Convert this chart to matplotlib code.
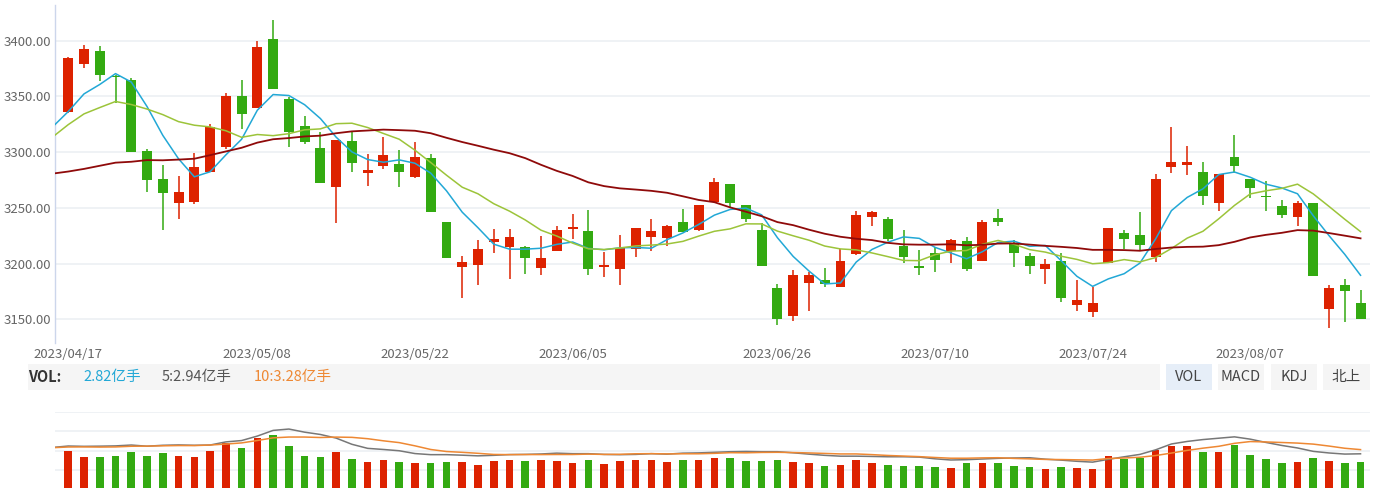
import numpy as np
import pandas as pd
import matplotlib
matplotlib.use("Agg")
import matplotlib.pyplot as plt
from matplotlib.patches import Rectangle

plt.rcParams["font.family"] = ["Noto Sans CJK SC", "DejaVu Sans"]

# --- data -----------------------------------------------------------------
# closes of the 30 sessions before the first candle (needed for MA10 / MA30)
prev_close = [3328.39, 3322.03, 3285.10, 3283.25, 3276.09, 3230.08, 3268.70,
              3245.31, 3263.31, 3226.89, 3250.55, 3234.91, 3255.65, 3265.65,
              3286.65, 3265.65, 3251.40, 3245.38, 3240.06, 3261.25, 3272.86,
              3296.40, 3312.56, 3312.63, 3327.65, 3315.36, 3313.57, 3327.18,
              3318.36, 3338.15]
# volumes (亿手) of the 10 sessions before the first candle
prev_vol = [3.4, 3.3, 3.5, 3.4, 3.3, 3.4, 3.5, 3.3, 3.4, 3.5]

opens = [3335.7, 3378.8, 3390.7, 3367.5, 3364.4, 3300.7, 3276.2, 3254.7, 3255.6, 3282.5,
         3304.9, 3350.4, 3339.9, 3401.5, 3347.4, 3323.4, 3304.0, 3269.0, 3310.0, 3281.6,
         3287.6, 3289.1, 3277.4, 3295.0, 3237.6, 3196.7, 3198.7, 3219.4, 3214.6, 3215.2,
         3195.8, 3211.6, 3231.0, 3229.2, 3196.7, 3194.9, 3212.8, 3224.2, 3223.3, 3237.6,
         3230.1, 3255.6, 3271.4, 3252.3, 3229.8, 3177.8, 3153.3, 3182.9, 3185.3, 3178.7,
         3208.3, 3241.5, 3239.7, 3215.8, 3197.5, 3209.2, 3211.6, 3220.3, 3202.6, 3240.6,
         3218.2, 3206.8, 3194.9, 3202.3, 3163.2, 3156.9, 3200.8, 3227.8, 3225.7, 3206.2,
         3286.4, 3288.5, 3281.9, 3254.1, 3295.9, 3276.2, 3260.9, 3251.4, 3242.1, 3254.4,
         3159.3, 3180.5, 3164.4]
closes = [3384.7, 3392.8, 3369.5, 3367.0, 3300.4, 3274.7, 3263.6, 3264.2, 3286.4, 3322.8,
          3350.4, 3333.9, 3394.6, 3356.6, 3318.4, 3309.1, 3272.0, 3310.9, 3290.6, 3284.0,
          3297.1, 3282.5, 3295.9, 3246.3, 3204.7, 3201.1, 3212.8, 3222.1, 3223.9, 3204.7,
          3205.3, 3230.1, 3232.8, 3195.2, 3198.4, 3214.3, 3231.6, 3229.2, 3234.0, 3228.3,
          3252.3, 3273.5, 3254.7, 3240.0, 3197.8, 3150.0, 3189.5, 3189.5, 3181.7, 3202.3,
          3243.9, 3246.0, 3221.8, 3205.6, 3195.8, 3203.5, 3221.2, 3195.5, 3237.0, 3237.3,
          3209.8, 3197.8, 3199.3, 3168.8, 3167.3, 3164.4, 3231.6, 3222.4, 3216.4, 3276.2,
          3290.9, 3290.9, 3260.9, 3280.4, 3287.6, 3267.5, 3259.8, 3243.9, 3254.4, 3188.9,
          3178.4, 3175.7, 3150.0]
highs = [3385.5, 3396.1, 3395.2, 3369.2, 3366.8, 3303.1, 3288.5, 3278.6, 3298.9, 3325.2,
         3352.8, 3364.4, 3399.7, 3418.5, 3349.2, 3332.4, 3318.4, 3310.9, 3318.0, 3298.0,
         3313.9, 3301.9, 3308.8, 3298.3, 3237.6, 3207.1, 3221.2, 3230.7, 3230.7, 3215.8,
         3224.8, 3234.0, 3244.8, 3247.8, 3210.1, 3225.7, 3231.6, 3239.7, 3234.6, 3248.7,
         3252.3, 3276.5, 3271.4, 3252.3, 3236.1, 3181.7, 3194.3, 3192.1, 3196.4, 3213.1,
         3247.2, 3247.2, 3241.5, 3230.1, 3212.2, 3215.2, 3221.8, 3224.2, 3239.1, 3249.0,
         3221.2, 3209.8, 3204.1, 3209.2, 3185.3, 3178.7, 3231.6, 3230.1, 3246.0, 3280.4,
         3322.2, 3305.5, 3291.1, 3280.4, 3315.1, 3276.2, 3273.8, 3257.4, 3256.5, 3254.4,
         3180.8, 3186.2, 3176.3]
lows = [3335.0, 3375.2, 3364.1, 3343.8, 3300.0, 3264.5, 3230.1, 3239.7, 3253.5, 3282.0,
        3302.5, 3321.1, 3339.9, 3356.6, 3304.9, 3307.3, 3272.0, 3236.1, 3282.2, 3269.6,
        3284.6, 3269.0, 3276.5, 3246.3, 3204.7, 3168.8, 3180.8, 3209.2, 3186.5, 3190.7,
        3189.8, 3211.6, 3222.4, 3189.8, 3188.3, 3180.8, 3206.2, 3211.6, 3216.1, 3228.3,
        3229.0, 3255.6, 3251.1, 3237.6, 3197.8, 3144.9, 3148.8, 3157.8, 3179.3, 3178.7,
        3208.0, 3234.0, 3220.3, 3200.8, 3189.8, 3192.8, 3200.8, 3193.7, 3202.6, 3234.0,
        3196.7, 3190.7, 3181.7, 3165.8, 3157.8, 3152.4, 3200.8, 3212.8, 3211.0, 3201.7,
        3281.6, 3279.5, 3252.9, 3247.5, 3281.6, 3259.2, 3246.9, 3241.2, 3234.0, 3188.9,
        3141.9, 3147.9, 3150.0]
volumes = [3.99, 3.37, 3.37, 3.51, 3.85, 3.51, 3.75, 3.51, 3.37, 3.95,
           4.78, 4.30, 5.33, 5.67, 4.50, 3.51, 3.37, 3.85, 3.16, 2.85,
           3.06, 2.85, 2.71, 2.71, 2.85, 2.85, 2.58, 2.92, 3.02, 2.92,
           3.02, 2.92, 2.71, 3.02, 2.61, 2.92, 3.02, 3.02, 2.82, 3.02,
           3.02, 3.26, 3.26, 2.92, 2.92, 3.02, 2.82, 2.71, 2.44, 2.58,
           3.02, 2.71, 2.58, 2.44, 2.44, 2.33, 2.23, 2.71, 2.71, 2.71,
           2.47, 2.33, 2.13, 2.33, 2.23, 2.13, 3.47, 3.16, 3.30, 4.09,
           4.50, 4.50, 3.92, 3.85, 4.64, 3.57, 3.16, 2.71, 2.82, 3.26,
           2.92, 2.71, 2.82]

holidays = ["2023-05-01", "2023-05-02", "2023-05-03", "2023-06-22", "2023-06-23"]
dates = [d for d in pd.bdate_range("2023-04-17", "2023-08-16")
         if d.strftime("%Y-%m-%d") not in holidays]
date_labels = [d.strftime("%Y/%m/%d") for d in dates]
tick_labels = ["2023/04/17", "2023/05/08", "2023/05/22", "2023/06/05",
               "2023/06/26", "2023/07/10", "2023/07/24", "2023/08/07"]

vol_label = ["2.82亿手", "5:2.94亿手", "10:3.28亿手"]
buttons = ["VOL", "MACD", "KDJ", "北上"]

# --- style ------------------------------------------------------------------
RED = "#dd2200"
GREEN = "#33aa11"
C_MA5 = "#22a8d6"
C_MA10 = "#9cc43a"
C_MA30 = "#8f0a0a"
GRID = "#eef1f5"
TXT = "#666666"

W, H = 1379, 488
fig = plt.figure(figsize=(W / 100, H / 100), dpi=100)


def box(x0, y0, x1, y1):
    # pixel box (top-left origin) -> figure fraction rect
    return [x0 / W, 1 - y1 / H, (x1 - x0) / W, (y1 - y0) / H]


n = len(closes)
x = np.arange(n)
o = np.array(opens)
c = np.array(closes)
up = c >= o
colors = np.where(up, RED, GREEN)
xlim = (-0.84, 82.6)

# --- price panel -------------------------------------------------------------
ax = fig.add_axes(box(55, 5, 1370, 342.7))
ax.set_xlim(*xlim)
ax.set_ylim(3129.0, 3432.0)

ax.vlines(x, lows, highs, colors=colors, lw=1.1, zorder=3)
body_lo = np.minimum(o, c)
body_h = np.maximum(np.abs(c - o), 0.9)
ax.bar(x, body_h, bottom=body_lo, width=0.63, color=colors, lw=0, zorder=4)

all_close = pd.Series(prev_close + closes)
k = len(prev_close)
xm = np.arange(-1, n)
for win, col, lw in [(5, C_MA5, 1.1), (10, C_MA10, 1.1), (30, C_MA30, 1.3)]:
    ma = all_close.rolling(win).mean().values[k - 1:]
    ax.plot(xm, ma, color=col, lw=lw, zorder=5)

ax.set_yticks(np.arange(3150, 3401, 50))
ax.set_yticklabels(["%.2f" % v for v in np.arange(3150, 3401, 50)])
ax.yaxis.grid(True, color=GRID, lw=1.3)
ax.set_axisbelow(True)
ax.set_xticks([date_labels.index(t) for t in tick_labels])
ax.set_xticklabels(tick_labels)
ax.tick_params(axis="both", length=0, labelsize=9.5, labelcolor=TXT)
ax.tick_params(axis="y", pad=3)
ax.tick_params(axis="x", pad=4)
for s in ["top", "right", "bottom"]:
    ax.spines[s].set_visible(False)
ax.spines["left"].set_color("#ccd6eb")
ax.spines["left"].set_linewidth(1)

# --- header strip -----------------------------------------------------------
fig.add_artist(Rectangle((28 / W, 1 - 389.7 / H), (1160 - 28) / W, 25.4 / H,
                         transform=fig.transFigure, color="#f5f5f5", lw=0))
ty = 1 - 377 / H
fig.text(28 / W, ty, "VOL:", fontsize=10.5, weight="bold", color="#333333", va="center")
fig.text(83 / W, ty, vol_label[0], fontsize=10.5, color=C_MA5, va="center")
fig.text(162 / W, ty, vol_label[1], fontsize=10.5, color="#555555", va="center")
fig.text(254 / W, ty, vol_label[2], fontsize=10.5, color="#ee8833", va="center")

btn_x = [(1166, 1212), (1218, 1264), (1271, 1317), (1323, 1370)]
for (b0, b1), lab in zip(btn_x, buttons):
    bg = "#e6eef8" if lab == "VOL" else "#f5f5f5"
    fig.add_artist(Rectangle((b0 / W, 1 - 389.7 / H), (b1 - b0) / W, 25.4 / H,
                             transform=fig.transFigure, color=bg, lw=0))
    fig.text((b0 + b1) / 2 / W, ty, lab, fontsize=10.5, color="#444444",
             ha="center", va="center")

# --- volume panel -----------------------------------------------------------
vax = fig.add_axes(box(55, 412, 1370, 489.6))
vax.set_xlim(*xlim)
vax.set_ylim(0, 8)
vax.bar(x, volumes, width=0.48, color=colors, lw=0, zorder=3)
vax.set_yticks([2, 4, 6, 8])
vax.yaxis.grid(True, color=GRID, lw=1.3)
vax.set_axisbelow(True)
vax.set_xticks([])
vax.tick_params(axis="y", length=0, labelleft=False)
for s in vax.spines.values():
    s.set_visible(False)

lax = vax.twinx()
lax.set_xlim(*xlim)
lax.set_ylim(0, 6.3)
all_vol = pd.Series(prev_vol + volumes)
kv = len(prev_vol)
lax.plot(xm, all_vol.rolling(5).mean().values[kv - 1:], color="#777777", lw=1.1)
lax.plot(xm, all_vol.rolling(10).mean().values[kv - 1:], color="#ee8833", lw=1.1)
lax.set_yticks([])
for s in lax.spines.values():
    s.set_visible(False)

fig.savefig("out.png", dpi=100)
